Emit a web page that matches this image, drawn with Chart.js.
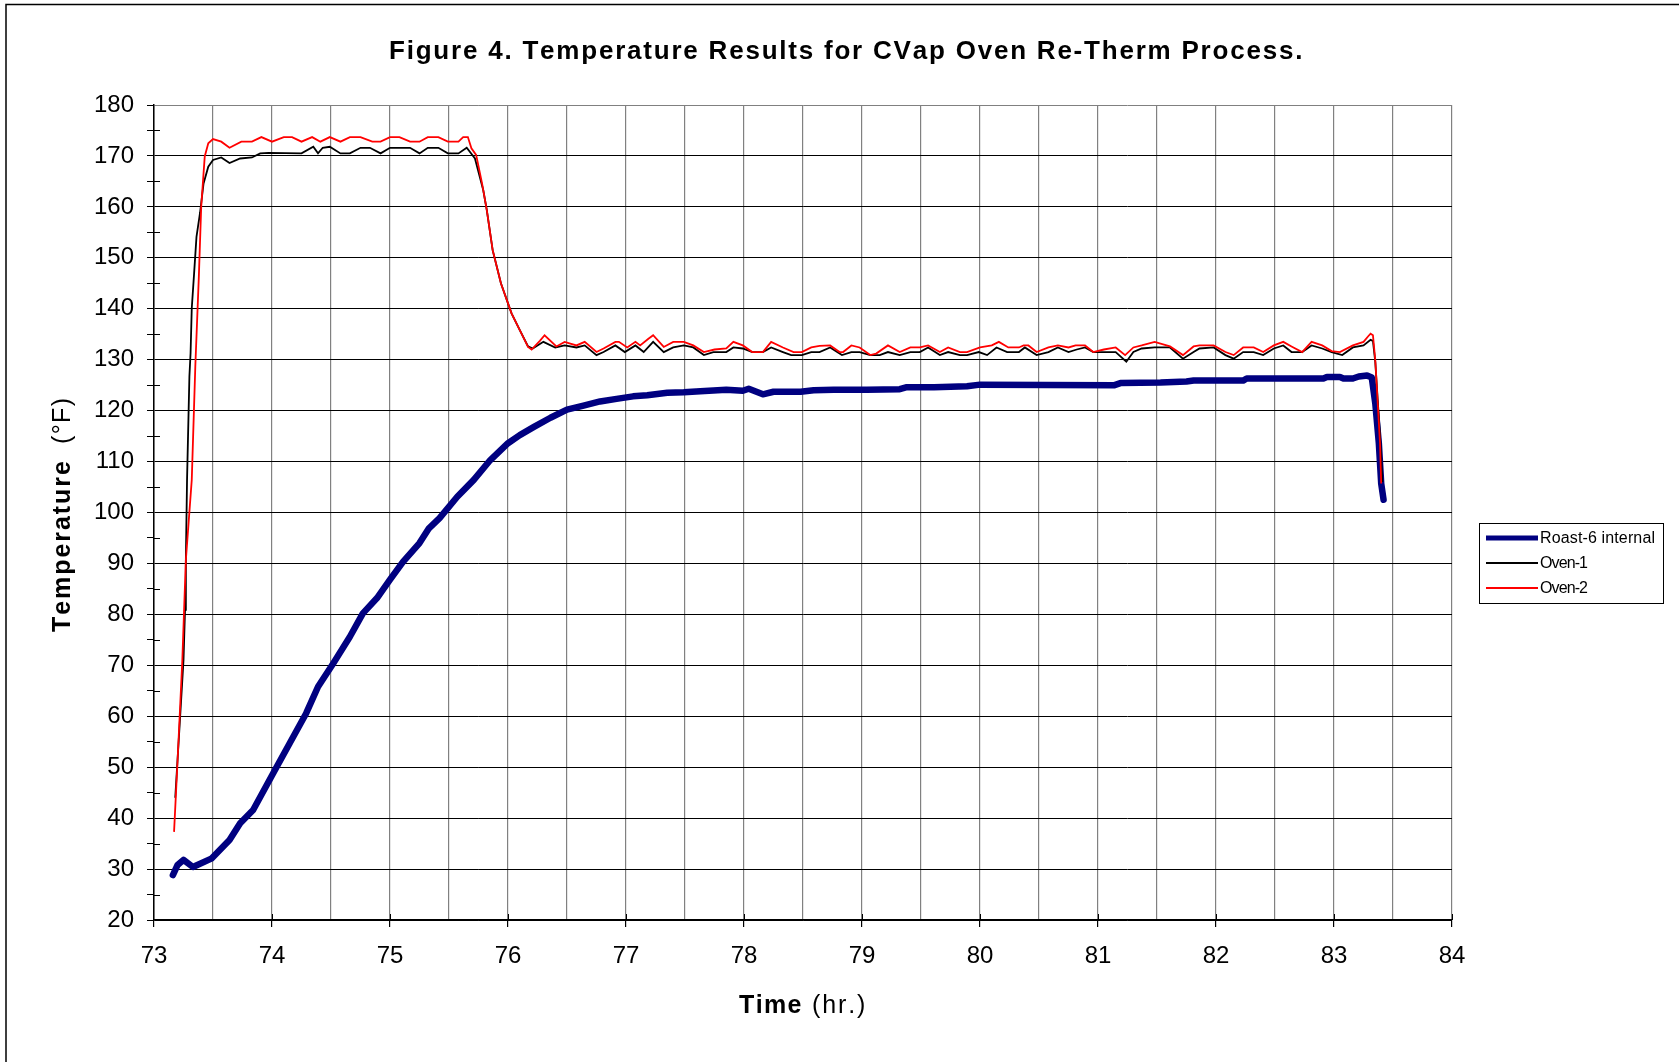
<!DOCTYPE html>
<html>
<head>
<meta charset="utf-8">
<title>Figure 4. Temperature Results for CVap Oven Re-Therm Process.</title>
<script src="https://cdn.jsdelivr.net/npm/chart.js@4.4.0/dist/chart.umd.min.js"></script>
<style>
  html, body { margin: 0; padding: 0; background: #fff; }
  canvas { display: block; }
</style>
</head>
<body>
<canvas id="myChart" width="1679" height="1062"></canvas>
<script>
const chartTitle = 'Figure 4. Temperature Results for CVap Oven Re-Therm Process.'
const seriesNames = ['Roast-6 internal', 'Oven-1', 'Oven-2']

// Roast-6 internal temperature (hr, °F)
const roastHours = [
  73.16, 73.2, 73.25, 73.33, 73.49, 73.64, 73.73, 73.84, 74.01, 74.15,
  74.29, 74.39, 74.52, 74.66, 74.77, 74.89, 75.0, 75.11, 75.25, 75.33,
  75.42, 75.57, 75.71, 75.85, 76.0, 76.1, 76.22, 76.36, 76.5, 76.64,
  76.78, 76.92, 77.06, 77.18, 77.35, 77.49, 77.63, 77.85, 77.99, 78.04,
  78.16, 78.25, 78.48, 78.59, 78.76, 79.04, 79.32, 79.38, 79.61, 79.89,
  80.0, 81.14, 81.19, 81.53, 81.75, 81.81, 82.23, 82.26, 82.91, 82.94,
  83.05, 83.08, 83.16, 83.21, 83.28, 83.32, 83.35, 83.38, 83.4, 83.42,
]
const roastTemps = [
  28.8, 30.8, 31.8, 30.4, 32.1, 35.7, 39.0, 41.6, 48.8, 54.7,
  60.6, 65.8, 70.4, 75.6, 80.2, 83.2, 86.8, 90.3, 94.0, 96.9,
  98.9, 103.1, 106.4, 110.3, 113.6, 115.2, 116.8, 118.6, 120.2, 121.0,
  121.8, 122.3, 122.8, 123.0, 123.5, 123.6, 123.8, 124.1, 123.9, 124.3,
  123.2, 123.7, 123.7, 124.0, 124.1, 124.1, 124.2, 124.6, 124.6, 124.8,
  125.1, 125.0, 125.4, 125.5, 125.7, 125.9, 125.9, 126.3, 126.3, 126.6,
  126.6, 126.3, 126.3, 126.7, 126.9, 126.5, 121.4, 113.6, 105.7, 102.5,
]

// Oven-1 temperature (hr, °F)
const oven1Hours = [
  73.18, 73.22, 73.25, 73.263, 73.27, 73.28, 73.3, 73.31, 73.32, 73.34,
  73.36, 73.39, 73.42, 73.46, 73.5, 73.57, 73.64, 73.73, 73.83, 73.9,
  73.97, 74.25, 74.35, 74.39, 74.43, 74.49, 74.58, 74.66, 74.75, 74.83,
  74.92, 75.0, 75.17, 75.25, 75.32, 75.41, 75.49, 75.58, 75.65, 75.72,
  75.79, 75.82, 75.87, 75.94, 76.03, 76.1, 76.17, 76.21, 76.3, 76.4,
  76.48, 76.58, 76.65, 76.75, 76.81, 76.91, 76.99, 77.08, 77.15, 77.23,
  77.32, 77.4, 77.49, 77.57, 77.66, 77.74, 77.85, 77.91, 77.99, 78.07,
  78.16, 78.23, 78.33, 78.4, 78.49, 78.57, 78.64, 78.73, 78.83, 78.91,
  78.98, 79.07, 79.15, 79.22, 79.32, 79.41, 79.49, 79.56, 79.66, 79.73,
  79.83, 79.89, 79.99, 80.06, 80.14, 80.23, 80.33, 80.38, 80.48, 80.58,
  80.66, 80.75, 80.82, 80.89, 80.96, 81.15, 81.24, 81.3, 81.37, 81.48,
  81.61, 81.72, 81.81, 81.86, 81.98, 82.08, 82.15, 82.23, 82.32, 82.4,
  82.49, 82.57, 82.64, 82.73, 82.81, 82.9, 82.98, 83.07, 83.16, 83.25,
  83.31, 83.33, 83.35, 83.39, 83.41,
]
const oven1Temps = [
  44.0, 59.3, 71.0, 80.9, 90.7, 106.4, 126.7, 131.3, 140.1, 147.0,
  154.1, 158.8, 164.6, 167.9, 169.2, 169.7, 168.6, 169.5, 169.7, 170.5,
  170.6, 170.5, 171.8, 170.5, 171.6, 171.8, 170.5, 170.5, 171.6, 171.6,
  170.5, 171.6, 171.6, 170.5, 171.6, 171.6, 170.5, 170.5, 171.6, 169.5,
  163.3, 159.4, 151.5, 145.0, 139.1, 135.8, 132.6, 132.2, 133.5, 132.4,
  132.8, 132.4, 132.8, 130.9, 131.5, 132.8, 131.5, 132.8, 131.5, 133.5,
  131.5, 132.4, 132.8, 132.4, 130.9, 131.5, 131.5, 132.4, 132.2, 131.5,
  131.5, 132.4, 131.5, 130.9, 130.9, 131.5, 131.5, 132.4, 130.9, 131.5,
  131.5, 130.9, 130.9, 131.5, 130.9, 131.5, 131.5, 132.4, 130.9, 131.5,
  130.9, 130.9, 131.5, 130.9, 132.4, 131.5, 131.5, 132.4, 130.9, 131.5,
  132.4, 131.5, 132.0, 132.4, 131.5, 131.5, 129.6, 131.5, 132.2, 132.4,
  132.4, 130.2, 131.5, 132.2, 132.4, 130.9, 130.2, 131.5, 131.5, 130.9,
  132.2, 132.8, 131.5, 131.5, 132.8, 132.2, 131.5, 130.9, 132.4, 132.8,
  133.9, 133.7, 129.5, 115.0, 106.0,
]

// Oven-2 temperature (hr, °F)
const oven2Hours = [
  73.17, 73.2, 73.24, 73.27, 73.32, 73.35, 73.38, 73.4, 73.43, 73.46,
  73.5, 73.57, 73.64, 73.74, 73.83, 73.91, 74.0, 74.1, 74.17, 74.25,
  74.34, 74.41, 74.49, 74.58, 74.66, 74.75, 74.85, 74.92, 75.0, 75.08,
  75.17, 75.25, 75.32, 75.41, 75.49, 75.58, 75.62, 75.66, 75.69, 75.73,
  75.78, 75.82, 75.87, 75.94, 76.03, 76.1, 76.17, 76.2, 76.27, 76.31,
  76.41, 76.48, 76.58, 76.65, 76.75, 76.81, 76.91, 76.94, 77.01, 77.08,
  77.12, 77.19, 77.23, 77.32, 77.4, 77.49, 77.57, 77.66, 77.75, 77.85,
  77.91, 77.99, 78.07, 78.16, 78.23, 78.33, 78.42, 78.49, 78.57, 78.64,
  78.73, 78.81, 78.84, 78.91, 78.98, 79.07, 79.12, 79.22, 79.32, 79.41,
  79.49, 79.56, 79.66, 79.73, 79.83, 79.89, 80.0, 80.1, 80.16, 80.24,
  80.33, 80.37, 80.41, 80.48, 80.58, 80.66, 80.75, 80.81, 80.89, 80.96,
  81.05, 81.15, 81.23, 81.3, 81.37, 81.48, 81.61, 81.72, 81.81, 81.86,
  81.98, 82.08, 82.15, 82.23, 82.32, 82.4, 82.49, 82.57, 82.64, 82.73,
  82.81, 82.9, 82.98, 83.05, 83.16, 83.25, 83.29, 83.31, 83.33, 83.35,
  83.39, 83.4,
]
const oven2Temps = [
  37.3, 51.4, 71.0, 90.7, 106.4, 128.6, 146.3, 160.0, 169.9, 172.5,
  173.3, 172.8, 171.6, 172.8, 172.8, 173.7, 172.8, 173.7, 173.7, 172.8,
  173.7, 172.8, 173.7, 172.8, 173.7, 173.7, 172.8, 172.8, 173.7, 173.7,
  172.8, 172.8, 173.7, 173.7, 172.8, 172.8, 173.7, 173.7, 171.5, 170.2,
  164.6, 159.4, 151.5, 145.0, 139.1, 135.8, 132.5, 132.0, 133.7, 134.8,
  132.6, 133.5, 132.8, 133.5, 131.5, 132.2, 133.5, 133.5, 132.4, 133.5,
  132.8, 134.1, 134.8, 132.5, 133.5, 133.5, 132.8, 131.5, 132.0, 132.2,
  133.5, 132.8, 131.5, 131.5, 133.5, 132.4, 131.5, 131.5, 132.4, 132.7,
  132.8, 131.5, 131.5, 132.8, 132.4, 130.9, 131.2, 132.8, 131.5, 132.4,
  132.4, 132.8, 131.5, 132.4, 131.5, 131.5, 132.4, 132.8, 133.5, 132.4,
  132.4, 132.8, 132.8, 131.5, 132.4, 132.8, 132.4, 132.8, 132.8, 131.5,
  132.0, 132.4, 130.9, 132.4, 132.8, 133.5, 132.6, 130.9, 132.6, 132.8,
  132.8, 131.5, 130.9, 132.4, 132.4, 131.5, 132.8, 133.5, 132.6, 131.5,
  133.5, 132.8, 131.7, 131.5, 132.8, 133.5, 134.6, 135.1, 134.8, 129.9,
  113.6, 105.7,
]

const FONT = '"Liberation Sans", Arial, Helvetica, sans-serif'

function toPoints(xs, ys) {
  return xs.map((x, i) => ({ x: x, y: ys[i] }))
}

// draw text spread to a given width (Excel's spacing is wider than the font's)
function drawSpread(ctx, text, x, y, width) {
  const natural = ctx.measureText(text).width
  const extra = text.length > 1 ? (width - natural) / (text.length - 1) : 0
  let cx = x
  for (const ch of text) {
    ctx.fillText(ch, cx, y)
    cx += ctx.measureText(ch).width + extra
  }
}

const decorPlugin = {
  id: 'decor',
  beforeDraw(chart) {
    const ctx = chart.ctx
    ctx.save()
    ctx.fillStyle = '#fff'
    ctx.fillRect(0, 0, chart.width, chart.height)
    // outer chart frame (only left and top edges are visible)
    ctx.strokeStyle = '#000'
    ctx.lineWidth = 1.5
    ctx.beginPath()
    ctx.moveTo(6, chart.height)
    ctx.lineTo(6, 4.5)
    ctx.lineTo(chart.width, 4.5)
    ctx.stroke()
    ctx.restore()
  },
  afterDraw(chart) {
    const ctx = chart.ctx
    const xs = chart.scales.x
    const ys = chart.scales.y
    const area = chart.chartArea
    ctx.save()

    // inner halves of the tick marks
    ctx.strokeStyle = '#000'
    ctx.lineWidth = 1
    for (let v = 25; v < 180; v += 10) {
      const py = Math.round(ys.getPixelForValue(v)) + 0.5
      ctx.beginPath()
      ctx.moveTo(area.left, py)
      ctx.lineTo(area.left + 6, py)
      ctx.stroke()
    }
    for (let v = 74; v <= 84; v += 1) {
      const px = Math.round(xs.getPixelForValue(v)) + 0.5
      ctx.beginPath()
      ctx.moveTo(px, area.bottom)
      ctx.lineTo(px, area.bottom - 6)
      ctx.stroke()
    }

    ctx.fillStyle = '#000'
    ctx.textBaseline = 'middle'
    ctx.textAlign = 'left'

    // chart title
    ctx.font = 'bold 26px ' + FONT
    drawSpread(ctx, chartTitle, 389, 52, 910)

    // x axis title
    ctx.font = 'bold 25px ' + FONT
    drawSpread(ctx, 'Time', 739, 1006, 62)
    ctx.font = '25px ' + FONT
    drawSpread(ctx, '(hr.)', 812, 1006, 52)

    // y axis title
    ctx.save()
    ctx.translate(63, 632)
    ctx.rotate(-Math.PI / 2)
    ctx.font = 'bold 25px ' + FONT
    drawSpread(ctx, 'Temperature', 0, 0, 169)
    ctx.font = '25px ' + FONT
    drawSpread(ctx, '(°F)', 188, 0, 46)
    ctx.restore()

    // legend
    ctx.strokeStyle = '#000'
    ctx.lineWidth = 1
    ctx.strokeRect(1479.5, 523.5, 184, 80)
    const rowsY = [538, 563, 588]
    const textW = [115, 48, 48]
    ctx.font = '16px ' + FONT
    chart.data.datasets.forEach((ds, i) => {
      ctx.strokeStyle = ds.borderColor
      ctx.lineWidth = i === 0 ? 5 : 1.8
      ctx.beginPath()
      ctx.moveTo(1486, rowsY[i])
      ctx.lineTo(1538, rowsY[i])
      ctx.stroke()
      ctx.fillStyle = '#000'
      drawSpread(ctx, ds.label, 1540, rowsY[i] + 1, textW[i])
    })
    ctx.restore()
  },
}

const data = {
  datasets: [
    {
      label: seriesNames[0],
      data: toPoints(roastHours, roastTemps),
      borderColor: '#000080',
      borderWidth: 6.5,
      borderJoinStyle: 'round',
      borderCapStyle: 'round',
      pointRadius: 0,
      tension: 0,
      order: 3,
    },
    {
      label: seriesNames[1],
      data: toPoints(oven1Hours, oven1Temps),
      borderColor: '#000000',
      borderWidth: 1.8,
      pointRadius: 0,
      tension: 0,
      order: 2,
    },
    {
      label: seriesNames[2],
      data: toPoints(oven2Hours, oven2Temps),
      borderColor: '#ff0000',
      borderWidth: 1.8,
      pointRadius: 0,
      tension: 0,
      order: 1,
    },
  ],
}

const tickFont = { family: FONT, size: 24 }

const config = {
  type: 'line',
  data: data,
  options: {
    responsive: false,
    animation: false,
    devicePixelRatio: 1,
    layout: { padding: { left: 0, top: 105, right: 227, bottom: 0 } },
    plugins: {
      legend: { display: false },
      title: { display: false },
      tooltip: { enabled: false },
    },
    scales: {
      x: {
        type: 'linear',
        min: 73,
        max: 84,
        afterFit: (scale) => {
          scale.height = 142
        },
        ticks: {
          stepSize: 0.5,
          autoSkip: false,
          maxRotation: 0,
          padding: 15,
          color: '#000',
          font: tickFont,
          callback: (value) => (Number.isInteger(value) ? value : ''),
        },
        grid: {
          color: '#808080',
          lineWidth: 1.2,
          tickLength: 7,
          tickColor: (ctx) =>
            ctx.tick && Number.isInteger(ctx.tick.value) ? '#000' : 'rgba(0,0,0,0)',
        },
        border: { color: '#000', width: 1.5 },
      },
      y: {
        min: 20,
        max: 180,
        afterFit: (scale) => {
          scale.width = 154
        },
        ticks: {
          stepSize: 5,
          autoSkip: false,
          padding: 13,
          color: '#000',
          font: tickFont,
          callback: (value) => (value % 10 === 0 ? value : ''),
        },
        grid: {
          color: (ctx) => {
            if (!ctx.tick) return '#000'
            if (ctx.tick.value % 10 !== 0) return 'rgba(0,0,0,0)'
            return ctx.tick.value === 180 ? '#808080' : '#000'
          },
          lineWidth: 1,
          tickLength: 7,
          tickColor: '#000',
        },
        border: { color: '#000', width: 1.5 },
      },
    },
  },
  plugins: [decorPlugin],
}

var myChart = new Chart(document.getElementById('myChart'), config)
</script>
</body>
</html>
